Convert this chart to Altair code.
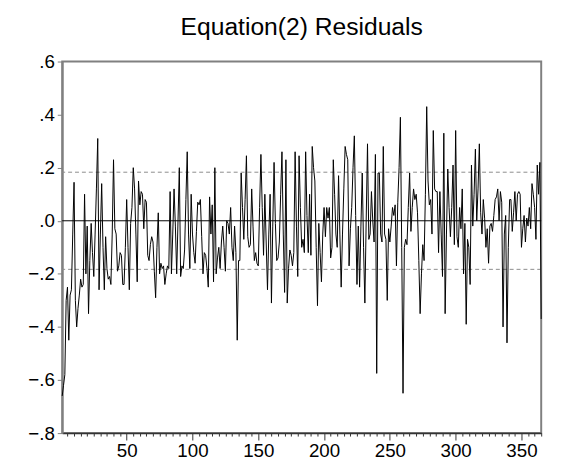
import altair as alt
import pandas as pd

seg_001_058 = [-0.66, -0.62, -0.58, -0.30, -0.25, -0.45, -0.28, -0.26, -0.05, 0.145,
               -0.30, -0.40, -0.33, -0.28, -0.22, -0.25, -0.24, 0.10, -0.20, -0.02,
               -0.35, -0.15, -0.01, -0.12, -0.21, -0.05, 0.12, 0.31, -0.26, -0.05,
               0.14, -0.10, -0.26, -0.06, -0.18, -0.22, -0.21, -0.24, -0.05, 0.23,
               -0.03, -0.05, -0.19, -0.17, -0.12, -0.13, -0.24, -0.24, -0.10, 0.08,
               -0.10, -0.26, -0.01, 0.05, 0.20, 0.12, -0.05, -0.23]
seg_059_117 = [0.15, 0.06, 0.11, 0.10, -0.03, 0.08, 0.07, -0.13, -0.15, -0.09,
               -0.06, -0.08, -0.19, -0.29, -0.10, 0.03, -0.20, -0.16, -0.18, -0.17,
               -0.24, -0.20, -0.17, -0.18, 0.11, -0.20, -0.05, 0.12, -0.02, -0.20,
               0.00, 0.20, -0.21, -0.17, -0.18, -0.11, 0.08, 0.26, -0.05, -0.18,
               0.10, -0.05, -0.12, -0.16, -0.04, 0.07, 0.06, 0.08, -0.06, -0.20,
               -0.12, -0.13, -0.18, -0.25, 0.09, -0.05, 0.06, -0.23, 0.20]
seg_118_177 = [-0.20, -0.14, -0.10, -0.18, -0.08, -0.02, -0.10, -0.19, 0.00, -0.01,
               -0.05, 0.05, -0.10, -0.15, -0.02, -0.12, -0.45, -0.15, -0.15, 0.18,
               0.05, -0.07, 0.08, 0.245, -0.06, -0.10, -0.09, 0.12, -0.02, -0.15,
               -0.12, -0.16, -0.17, 0.05, 0.25, 0.05, -0.13, 0.10, -0.08, -0.26,
               -0.05, 0.10, -0.31, -0.02, 0.22, -0.01, -0.15, -0.14, -0.08, 0.10,
               0.26, -0.05, -0.27, 0.23, -0.31, -0.18, -0.11, -0.13, -0.17, -0.12]
seg_178_238 = [0.26, -0.02, -0.21, 0.245, 0.05, -0.10, -0.07, -0.12, 0.26, 0.02,
               -0.12, 0.10, -0.13, 0.28, 0.20, 0.15, -0.10, -0.32, -0.01, -0.12,
               -0.23, -0.05, 0.05, -0.06, 0.05, 0.01, 0.05, -0.14, -0.10, 0.23,
               0.10, -0.05, -0.10, 0.17, -0.05, -0.25, -0.05, 0.12, 0.28, 0.25,
               0.23, -0.17, -0.03, 0.05, 0.20, 0.32, 0.02, -0.24, -0.02, -0.25,
               -0.02, 0.18, -0.10, -0.31, 0.00, 0.29, -0.07, -0.05, 0.11, 0.00,
               -0.08]
seg_239_298 = [0.25, -0.575, 0.18, 0.18, -0.05, -0.08, 0.28, -0.05, -0.07, -0.30,
               -0.03, -0.08, -0.02, 0.05, 0.02, 0.06, -0.17, 0.07, 0.20, 0.39,
               -0.10, -0.65, -0.10, -0.07, -0.09, 0.05, 0.18, -0.04, 0.05, 0.12,
               0.08, 0.10, 0.03, -0.15, -0.35, -0.20, -0.09, -0.15, 0.10, 0.43,
               0.15, 0.06, 0.08, -0.05, 0.34, 0.12, 0.11, 0.11, -0.12, 0.11,
               -0.05, -0.21, 0.33, -0.35, -0.05, 0.195, 0.05, -0.06, 0.05, 0.21]
seg_299_350 = [-0.09, 0.34, -0.06, -0.10, 0.05, -0.03, 0.12, -0.20, -0.01, -0.39,
               -0.07, -0.10, -0.24, 0.21, -0.02, 0.10, 0.27, 0.00, 0.12, 0.29,
               0.03, -0.05, 0.08, 0.01, -0.10, -0.03, -0.16, -0.02, -0.01, -0.04,
               0.02, 0.08, 0.09, 0.12, 0.00, 0.11, 0.07, -0.40, -0.05, 0.02,
               -0.46, -0.10, 0.08, 0.08, -0.04, 0.03, 0.11, 0.00, 0.10, 0.11,
               0.10, -0.10]
seg_351_365 = [-0.03, 0.02, -0.08, 0.01, -0.02, 0.05, -0.03, 0.14, 0.10, 0.05,
               -0.07, 0.21, 0.10, 0.22, -0.37]

residuals = seg_001_058 + seg_059_117 + seg_118_177 + seg_178_238 + seg_239_298 + seg_299_350 + seg_351_365
observations = list(range(1, len(residuals) + 1))

std_err = 0.183
ref_values = [0.0, std_err, -std_err]
ref_kind = ["zero", "band", "band"]

y_ticks = [-0.8, -0.6, -0.4, -0.2, 0.0, 0.2, 0.4, 0.6]
x_ticks = list(range(5, 366, 5))
title_text = ["Equation(2) Residuals"]

df = pd.DataFrame({"obs": observations, "resid": residuals})
ref = pd.DataFrame({"y": ref_values, "kind": ref_kind})
title_df = pd.DataFrame({"title": title_text})

FONT = "Liberation Sans"
W, H = 486, 377
x_scale = alt.Scale(domain=[1, len(residuals)], nice=False, zero=False)
y_scale = alt.Scale(domain=[-0.8, 0.6], nice=False, zero=False)

x_axis = alt.Axis(
    values=x_ticks,
    labelExpr="datum.value % 50 === 0 ? datum.label : ''",
    tickSize={"condition": {"test": "datum.value % 50 === 0", "value": 7}, "value": 3},
    labelOverlap=False,
    grid=False,
    title=None,
    labelFont=FONT,
    labelFontSize=19,
    labelColor="black",
    labelPadding=2,
    labelFlush=False,
    domainColor="#333333",
    domainWidth=1.5,
    tickColor="#333333",
    tickWidth=1,
)
y_axis = alt.Axis(
    values=y_ticks,
    labelExpr="replace(format(datum.value, '.1f'), '0.', '.')",
    tickSize=5,
    grid=False,
    title=None,
    labelFont=FONT,
    labelFontSize=19,
    labelColor="black",
    labelPadding=3,
    labelFlush=False,
    domainColor="#808080",
    domainWidth=2,
    tickColor="#808080",
    tickWidth=1,
)

zero_line = alt.Chart(ref).transform_filter(alt.datum.kind == "zero").mark_rule(
    color="black", strokeWidth=1
).encode(y=alt.Y("y:Q", scale=y_scale, axis=y_axis))

band_lines = alt.Chart(ref).transform_filter(alt.datum.kind == "band").mark_rule(
    color="#8c8c8c", strokeWidth=1, strokeDash=[4, 3]
).encode(y=alt.Y("y:Q", scale=y_scale, axis=y_axis))

line = alt.Chart(df).mark_line(color="black", strokeWidth=1).encode(
    x=alt.X("obs:Q", scale=x_scale, axis=x_axis),
    y=alt.Y("resid:Q", scale=y_scale, axis=y_axis),
)

title_mark = alt.Chart(title_df).mark_text(
    font=FONT, fontSize=25, color="black", align="center", baseline="alphabetic"
).encode(text="title:N", x=alt.value(W / 2), y=alt.value(-27))

chart = alt.layer(band_lines, zero_line, line, title_mark).properties(
    width=W,
    height=H,
    autosize=alt.AutoSizeParams(type="none"),
    padding={"left": 55, "top": 51, "right": 14, "bottom": 26},
).configure_view(stroke="#808080", strokeWidth=2)

chart.save("out.html", embed_options={"renderer": "svg", "actions": False})
